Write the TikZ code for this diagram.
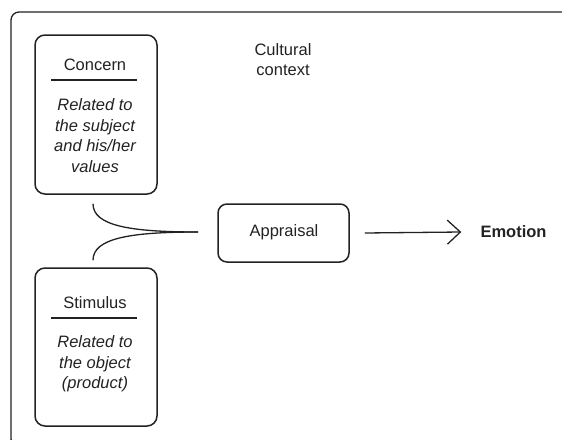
\documentclass[tikz,border=0pt]{standalone}
\usepackage{fontspec}
\setmainfont{Liberation Sans}
\usetikzlibrary{arrows.meta}
\definecolor{ink}{HTML}{222222}
\begin{document}
\begin{tikzpicture}[x=1pt,y=1pt,
  ln/.style={draw=ink, line width=1.5pt},
  card/.style={ln, rounded corners=10pt, minimum width=122pt, minimum height=159pt, inner sep=0pt},
  lbl/.style={font=\fontsize{16.5}{20}\selectfont, text=ink, inner sep=0pt, align=center},
  note/.style={lbl, font=\fontsize{16.5}{20.5}\selectfont\itshape}]
\useasboundingbox (0,0) rectangle (562,-439);
\clip (0,0) rectangle (562,-439);
\draw[ln, line width=1.3pt, rounded corners=8pt] (11,-12) rectangle (575,-447);
% boxes
\node[card] (concern) at (96,-114.5) {};
\node[card, minimum height=158pt] (stimulus) at (96,-347) {};
\node[ln, rounded corners=9pt, minimum width=131pt, minimum height=58pt, inner sep=0pt] (appraisal) at (283.5,-233) {};
% texts
\node[lbl] (concerntitle) at (95,-65) {Concern};
\node[note] (concernnote) at (95,-135.5) {Related to\\the subject\\and his/her\\values};
\node[lbl] (stimtitle) at (95,-303) {Stimulus};
\node[note] (stimnote) at (95,-364) {Related to\\the object\\(product)};
\node[lbl] (appraisaltxt) at (284,-232) {Appraisal};
\node[lbl, font=\fontsize{16.5}{20}\selectfont\bfseries] (emotion) at (513.5,-232) {Emotion};
\node[lbl] (culture) at (283,-59.5) {Cultural\\context};
% separators
\coordinate (c1) at (51,-80);
\coordinate (c2) at (137,-80);
\coordinate (s1) at (51,-318);
\coordinate (s2) at (137,-318);
\draw[ln] (c1) -- (c2);
\draw[ln] (s1) -- (s2);
% merging curves
\coordinate (merge) at (198,-232);
\draw[ln, line width=1.3pt] ([xshift=-3pt,yshift=-9pt]concern.south) .. controls +(0,-22) and +(-68,0) .. (merge);
\draw[ln, line width=1.3pt] ([xshift=-3pt,yshift=7pt]stimulus.north) .. controls +(0,22) and +(-68,0) .. (merge);
% arrow
\draw[ln, line width=1.3pt, -{Straight Barb[length=13pt,width=24pt,line width=1.3pt]}] ([xshift=15pt]appraisal.east) -- ([xshift=-19pt]emotion.west);
\end{tikzpicture}
\end{document}
